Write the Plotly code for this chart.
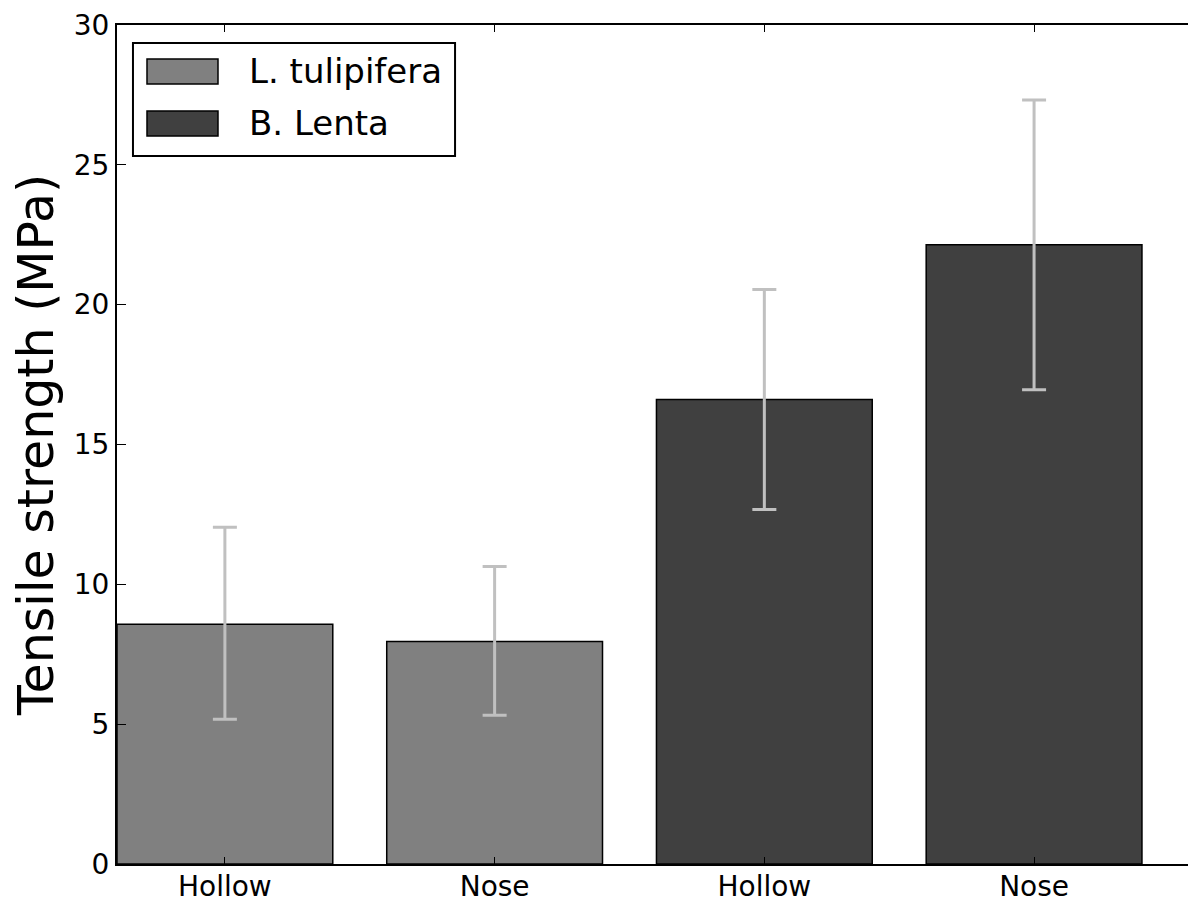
import plotly.graph_objects as go

categories = ["Hollow", "Nose", "Hollow", "Nose"]
species = ["L. tulipifera", "B. Lenta"]
tulip_vals = [8.57, 7.96]
tulip_err_plus = [3.47, 2.68]
tulip_err_minus = [3.39, 2.64]
lenta_vals = [16.61, 22.14]
lenta_err_plus = [3.93, 5.18]
lenta_err_minus = [3.93, 5.18]
y_ticks = [0, 5, 10, 15, 20, 25, 30]
colors = ["#808080", "#404040"]

FONT = "DejaVu Sans"
fig = go.Figure()
fig.add_trace(go.Bar(
    x=[0, 1], y=tulip_vals, width=0.8, name=species[0],
    marker=dict(color=colors[0], line=dict(color="black", width=1.5)),
    error_y=dict(type="data", symmetric=False, array=tulip_err_plus, arrayminus=tulip_err_minus,
                 color="#c0c0c0", thickness=3, width=12),
    showlegend=False,
))
fig.add_trace(go.Bar(
    x=[2, 3], y=lenta_vals, width=0.8, name=species[1],
    marker=dict(color=colors[1], line=dict(color="black", width=1.5)),
    error_y=dict(type="data", symmetric=False, array=lenta_err_plus, arrayminus=lenta_err_minus,
                 color="#c0c0c0", thickness=3, width=12),
    showlegend=False,
))

# manual legend (box, keys, labels) in paper coordinates
PW = 1087.0 / 1079.0
fig.add_shape(type="rect", xref="paper", yref="paper", x0=0.0148 / PW, x1=0.3133 / PW, y0=0.8439, y1=0.9785,
              line=dict(color="black", width=2), fillcolor="white", layer="above")
for i, (name, c) in enumerate(zip(species, colors)):
    yc = 0.9446 - i * 0.062
    fig.add_shape(type="rect", xref="paper", yref="paper", x0=0.0278 / PW, x1=0.0936 / PW,
                  y0=yc - 0.0149, y1=yc + 0.0149, fillcolor=c,
                  line=dict(color="black", width=1.5), layer="above")
    fig.add_annotation(xref="paper", yref="paper", x=0.1205 / PW, y=yc, text=name, showarrow=False,
                       xanchor="left", yanchor="middle", font=dict(family=FONT, size=34, color="black"))

fig.update_layout(
    width=1196, height=902,
    margin=dict(l=109, r=0, t=17, b=46, autoexpand=False),
    plot_bgcolor="white", paper_bgcolor="white",
    bargap=0.2,
    font=dict(family=FONT, color="black"),
    xaxis=dict(range=[-0.4, 3.63], tickvals=[0, 1, 2, 3], ticktext=categories,
               ticks="inside", ticklen=7, tickcolor="black", mirror="ticks",
               showline=True, linecolor="black", linewidth=2, showgrid=False, zeroline=False,
               tickfont=dict(size=28, family=FONT, color="black"), ticklabelstandoff=-4,
               automargin=False),
    yaxis=dict(range=[0, 30], tickvals=y_ticks, ticks="inside", ticklen=9, tickcolor="black",
               mirror="ticks", showline=True, linecolor="black", linewidth=2, showgrid=False,
               zeroline=False, tickfont=dict(size=28, family=FONT, color="black"),
               title=dict(text="Tensile strength (MPa)", font=dict(size=49, family=FONT, color="black"),
                          standoff=12),
               automargin=False),
)
fig.write_html("out.html")
